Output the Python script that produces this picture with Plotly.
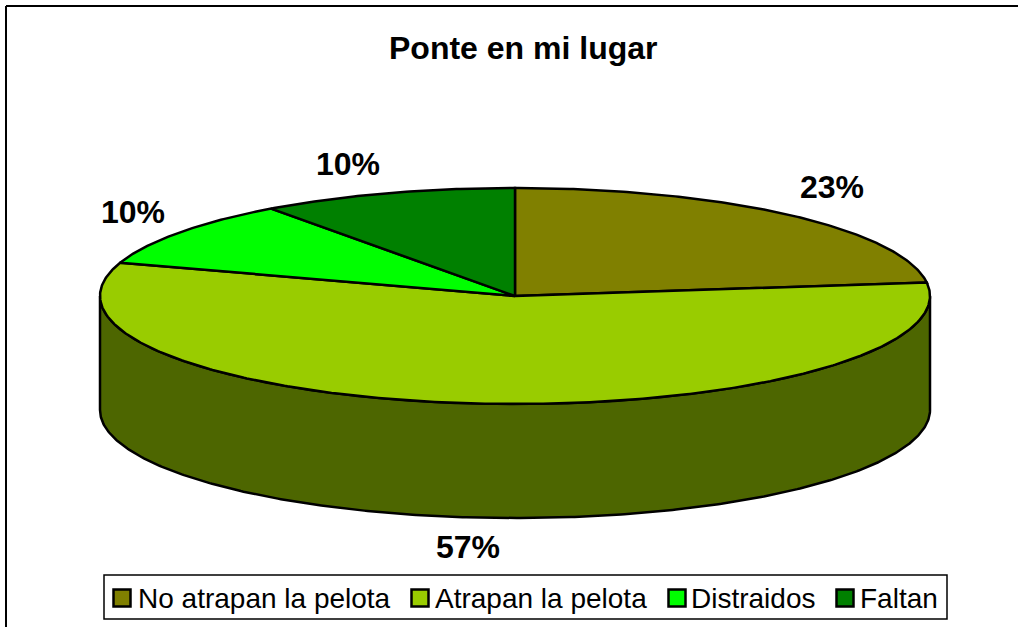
import numpy as np
import plotly.graph_objects as go

categories = ["No atrapan la pelota", "Atrapan la pelota", "Distraidos", "Faltan"]
values = [23, 57, 10, 10]
top_colors = ["#808000", "#99CC00", "#00FF00", "#008000"]
side_colors = ["#404000", "#4D6600", "#008000", "#004000"]
title_text = "Ponte en mi lugar"

# pie geometry in page pixels
CX, CY, RX, RY, DEPTH = 515, 296, 415, 108, 114
EDGE = 2.5


def rim(a0, a1):
    t = np.radians(np.linspace(a0, a1, max(int(abs(a1 - a0) * 2), 2)))
    return CX + RX * np.sin(t), CY - RY * np.cos(t)


fig = go.Figure()
edges = np.cumsum([0] + values) / sum(values) * 360

# front wall, visible between 90 and 270 degrees clockwise from the top
for i, name in enumerate(categories):
    a0, a1 = max(edges[i], 90), min(edges[i + 1], 270)
    if a1 <= a0:
        continue
    x, y = rim(a0, a1)
    fig.add_trace(go.Scatter(
        x=np.r_[x, x[::-1], x[0]], y=np.r_[y, y[::-1] + DEPTH, y[0]],
        mode="lines", fill="toself", fillcolor=side_colors[i],
        line=dict(color="black", width=EDGE), showlegend=False, hoverinfo="skip"))

# top faces
for i, name in enumerate(categories):
    x, y = rim(edges[i], edges[i + 1])
    fig.add_trace(go.Scatter(
        x=np.r_[CX, x, CX], y=np.r_[CY, y, CY],
        mode="lines", fill="toself", fillcolor=top_colors[i],
        line=dict(color="black", width=EDGE), showlegend=False, name=name,
        hoverinfo="name"))

label_pos = [(832, 187), (468, 547), (133, 212), (348, 164)]
for v, (px, py) in zip(values, label_pos):
    fig.add_annotation(x=px, y=py, text=f"<b>{v}%</b>", showarrow=False,
                       font=dict(family="Liberation Sans", size=32, color="black"))

fig.add_annotation(x=523, y=48, text=f"<b>{title_text}</b>", showarrow=False,
                   font=dict(family="Liberation Sans", size=32, color="black"))

frame = dict(color="black", width=2)
fig.add_shape(type="line", x0=6, x1=6, y0=6, y1=627, line=frame)
fig.add_shape(type="line", x0=6, x1=1018, y0=6, y1=6, line=frame)

# legend box with one swatch and one label per category
fig.add_shape(type="rect", x0=104, x1=947, y0=575, y1=619,
              line=dict(color="black", width=1.5), fillcolor="white", layer="below")
swatch_x = [122, 420, 677, 845]
text_x = [136, 433, 689, 858]
for i, name in enumerate(categories):
    fig.add_trace(go.Scatter(
        x=[swatch_x[i]], y=[598], mode="markers", showlegend=False, name=name,
        hoverinfo="name",
        marker=dict(symbol="square", size=17, color=top_colors[i],
                    line=dict(color="black", width=2.5))))
    fig.add_annotation(x=text_x[i], y=598, text=name, showarrow=False, xanchor="left",
                       font=dict(family="Liberation Sans", size=28, color="black"))

fig.update_layout(
    width=1028, height=627, margin=dict(l=0, r=0, t=0, b=0),
    paper_bgcolor="white", plot_bgcolor="rgba(0,0,0,0)", showlegend=False,
    xaxis=dict(range=[0, 1028], visible=False, fixedrange=True),
    yaxis=dict(range=[627, 0], visible=False, fixedrange=True),
)
fig.write_html(
    "out.html",
    config={"displayModeBar": False},
    post_script="document.body.style.margin='0';document.documentElement.style.overflow='hidden';",
)
